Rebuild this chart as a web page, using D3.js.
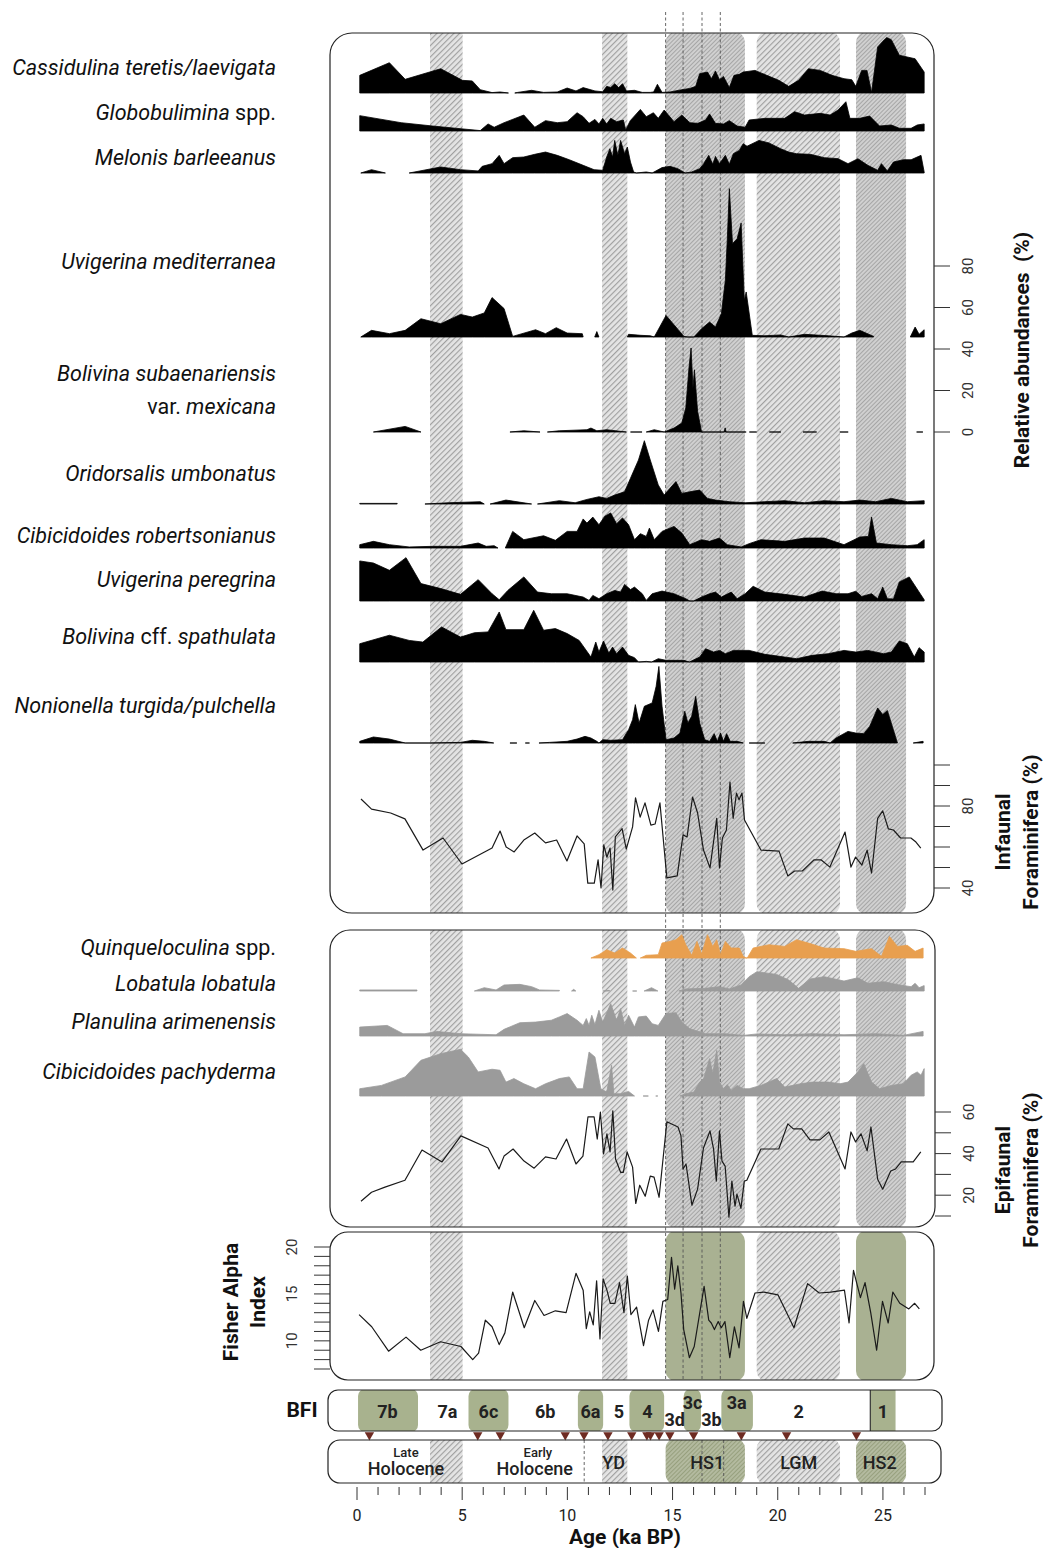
<!DOCTYPE html>
<html><head><meta charset="utf-8">
<script src="https://cdn.jsdelivr.net/npm/d3@7"></script>
<style>
body{margin:0;background:#fff;}
svg text{font-family:Roboto,"Noto Sans",sans-serif;}
</style></head><body>
<svg id="chart" width="1049" height="1548"></svg>
<script>
// ---- Relative abundances (%) of benthic foraminifera, [age ka BP, %] ----
const cassidulina = [[0.13,8.5],[1.54,14.6],[2.29,6.6],[3.98,11.7],[5.01,6.1],[5.48,5.8],[5.86,1.6],[6.42,0.2],[6.8,0.5],[7.2,0],[7.36,null],[7.5,0],[7.64,0.3],[8.3,1.3],[8.87,0.3],[9.52,0.5],[9.99,2.4],[10.41,1.0],[10.75,2.6],[11.31,1.0],[11.68,0.6],[11.87,3.2],[12.06,2.6],[12.25,4.5],[12.44,2.6],[12.62,4.5],[12.81,1.0],[13.19,1.3],[13.56,0.3],[13.94,0.3],[14.1,0.5],[14.28,4.2],[14.5,0.3],[14.88,0.5],[15.44,1.6],[15.82,2.2],[16.1,3.2],[16.29,9.3],[16.66,10.1],[16.85,6.9],[17.04,10.6],[17.23,6.4],[17.42,8.0],[17.7,2.6],[17.92,8.5],[18.17,9.0],[18.36,10.1],[18.92,10.9],[19.48,8.5],[20.05,6.1],[20.52,3.2],[20.99,6.1],[21.46,11.7],[22.02,10.9],[22.58,8.5],[23.15,6.9],[23.52,6.4],[23.71,3.2],[23.99,10.9],[24.24,10.9],[24.46,0.3],[24.75,22.2],[25.0,25.0],[25.18,26.7],[25.4,25.7],[25.78,18.2],[26.53,16.5],[26.96,10.1]];
const globobulimina = [[0.13,7.4],[2.1,4],[3.6,2.4],[4.92,1.1],[5.86,0.2],[6.23,3.4],[6.52,1.8],[6.99,4],[7.93,7.7],[8.45,1.8],[8.96,5],[9.52,4],[9.99,4.5],[10.46,8.8],[10.75,6.9],[11.03,3.7],[11.31,5.6],[11.5,3.4],[11.68,6.1],[11.87,3.4],[12.06,6.1],[12.34,4.5],[12.66,5.3],[12.77,0.5],[12.99,5],[13.47,10.4],[13.75,6.9],[14.09,8.8],[14.32,6.1],[14.6,10.1],[15.07,4.5],[15.44,7.7],[15.82,4],[16.2,3.7],[16.57,5.3],[16.76,8.2],[17.04,3.7],[17.42,3.4],[17.7,5],[18.07,2.4],[18.45,1.8],[18.64,5.3],[19.39,6.1],[20.33,6.1],[20.8,9.3],[21.27,7.7],[22.02,8.5],[22.49,7.7],[22.87,10.1],[23.24,14.1],[23.43,6.1],[23.9,6.1],[24.37,7.2],[24.84,2.4],[25.4,2.9],[25.78,1.3],[26.34,1.3],[26.63,2.9],[26.96,3.4]];
const melonis = [[0.18,0],[0.69,1.6],[1.35,0],[1.4,null],[2.48,0],[3.98,2.9],[4.92,1.6],[5.76,1],[5.95,3.2],[6.42,4.5],[6.76,8.5],[6.99,4.5],[7.4,7.4],[7.93,7.7],[8.45,9],[8.96,10.1],[9.52,8.5],[10.09,6.4],[10.75,3.7],[11.27,1.6],[11.68,1.3],[11.87,7.7],[12.02,11.7],[12.15,7.7],[12.25,15.7],[12.4,8.5],[12.53,15.7],[12.72,9.3],[12.85,12.5],[13.0,5.3],[13.15,0.5],[13.28,0],[13.75,0.5],[14.03,0],[14.5,2.6],[14.88,3.2],[15.25,2.1],[15.6,0],[15.91,0.5],[16.29,2.1],[16.48,4.5],[16.72,8.5],[16.91,4.2],[17.04,8],[17.23,4.5],[17.51,8.5],[17.7,4.2],[17.89,9.3],[18.17,10.9],[18.36,14.1],[18.54,12.9],[19.11,15.7],[19.58,14.5],[20.14,11.7],[20.52,10.1],[20.89,9.3],[21.55,9],[22.21,7.4],[22.87,6.9],[23.34,4.5],[23.81,6.9],[24.28,3.7],[24.75,1.3],[24.93,4.5],[25.21,1],[25.5,5.3],[25.97,6.4],[26.34,6.4],[26.81,8.5],[26.96,0.5]];
const uvigerinaMed = [[0.18,0],[0.69,3.2],[1.54,1.6],[2.29,3.2],[3.04,8.8],[3.98,6.4],[4.92,10.9],[5.48,9.6],[6.05,11.6],[6.42,19],[6.99,13.7],[7.4,0.3],[8.49,3.5],[8.96,1.6],[9.47,4.5],[9.99,1.9],[10.71,1.6],[10.75,0],[10.8,null],[11.3,0],[11.4,2.6],[11.5,0],[11.55,null],[12.85,0],[12.91,1.3],[13.5,0.8],[13.94,0.6],[14.13,0],[14.69,10.4],[15.54,0.3],[15.73,0],[16.01,0],[16.38,4],[16.76,7.2],[17.04,4.8],[17.32,11.2],[17.51,27.3],[17.6,46.6],[17.7,71.5],[17.85,45],[18.07,47.4],[18.26,54.9],[18.41,17.7],[18.5,21.7],[18.79,0.8],[19.39,0.6],[20.14,1],[20.52,0],[21.27,1.3],[22.4,0.6],[23.15,0],[23.52,1.9],[23.9,3.2],[24.56,0.3],[24.6,null],[26.3,0],[26.53,4.8],[26.72,1.3],[26.96,3.5]];
const bolivinaSub = [[0.78,0],[2.29,2.7],[3.04,0],[3.1,null],[7.27,0],[7.93,0.6],[8.7,0],[8.75,null],[9.05,0],[9.62,0.6],[10.93,1.1],[11.12,1.9],[11.4,0.6],[11.87,1.1],[12.8,0],[12.85,null],[13.0,0],[13.55,0],[13.6,null],[13.75,0],[14.13,1.1],[14.6,0],[15.07,1.9],[15.44,4.3],[15.63,11.6],[15.78,30.8],[15.88,40.5],[15.97,21.2],[16.04,30],[16.19,10],[16.38,0],[17.45,0],[17.5,2],[17.55,0],[18.5,0],[18.55,null],[18.65,0],[19.0,0],[19.05,null],[19.6,0],[20.15,0],[20.2,null],[21.2,0],[21.85,0],[21.9,null],[22.95,0],[23.35,0],[23.4,null],[26.6,0],[26.9,0]];
const oridorsalis = [[0.13,0.3],[1.91,0.3],[1.95,null],[3.23,0],[4.35,0.6],[5.86,1.1],[6.05,0],[6.1,null],[6.33,0],[7.08,1.9],[8.3,0],[8.35,null],[8.58,0],[9.62,1.6],[10.37,0.6],[10.93,2.2],[11.5,3.5],[11.87,2.7],[12.25,4.3],[12.72,5.9],[13.0,12.4],[13.38,21.2],[13.66,30.5],[13.94,21.2],[14.32,9.2],[14.6,4.3],[14.88,7.6],[15.16,10.8],[15.44,5.1],[15.82,5.9],[16.29,6.7],[16.66,2.7],[17.04,1.9],[17.7,1.1],[18.45,0.6],[19.39,1.1],[20.33,1.6],[21.27,0.6],[22.21,1.6],[23.15,1.1],[23.9,1.9],[24.65,1.1],[25.4,2.7],[26.16,1.1],[26.96,1.6]];
const cibRobertsonianus = [[0.13,1.6],[0.78,3.2],[1.54,1.6],[2.48,0.5],[3.6,0.8],[4.92,0.8],[5.76,2.4],[6.14,0.8],[6.52,1.1],[6.7,0],[6.75,null],[7.05,0],[7.4,8],[7.93,4],[8.87,5.9],[9.43,3.7],[9.99,8],[10.46,8],[10.75,14],[10.93,12],[11.21,14.9],[11.5,11.2],[11.78,15.3],[12.06,16.9],[12.34,11.7],[12.62,14.5],[12.91,11.2],[13.19,4],[13.47,6.9],[13.75,5.6],[13.9,9.6],[14.13,4],[14.5,8],[15.07,10.4],[15.44,7.2],[15.82,1.6],[16.38,4],[16.76,3.2],[17.23,4.8],[17.6,1.6],[18.26,0.5],[18.64,2.1],[19.2,4],[20.33,3.2],[21.27,4.8],[22.21,4.8],[23.15,1.6],[23.9,5.3],[24.31,5.6],[24.46,14.9],[24.69,2.4],[25.4,1.6],[26.16,1.1],[26.63,1.6],[26.96,4]];
const uvigerinaPer = [[0.13,19.3],[0.78,18.3],[1.54,14.8],[2.33,20.9],[3.04,8.4],[3.98,6],[4.92,3.2],[5.76,10.3],[6.42,3.5],[6.76,0.6],[7.17,5.1],[7.93,11.6],[8.58,4.3],[9.24,3.5],[9.99,3.5],[10.75,1.9],[11.03,0.3],[11.21,2.7],[11.5,1.1],[11.87,3.5],[12.25,5.1],[12.53,4.3],[12.72,8],[13.0,5.5],[13.19,6.7],[13.56,3.5],[13.75,0.3],[14.03,3.5],[14.5,4.8],[15.07,3.5],[15.63,1.1],[15.82,0],[16.0,0],[16.38,1.9],[16.76,3.5],[17.04,4.3],[17.32,1.9],[17.79,4.3],[18.07,1.1],[18.45,3.5],[18.83,7.1],[19.39,4.3],[20.33,3.2],[21.27,1.9],[22.11,4.8],[22.77,3.5],[23.34,3.5],[23.71,4.7],[23.99,2.2],[24.46,3.5],[24.75,1.1],[24.99,6.7],[25.21,1.1],[25.5,1.0],[25.78,9.2],[26.25,11.6],[26.96,0.6]];
const bolivinaSpath = [[0.13,8.8],[1.54,12.9],[2.48,10.4],[3.13,9.6],[4.02,16.9],[4.92,12],[5.58,14.1],[6.23,14.5],[6.76,24.1],[7.08,15.6],[7.93,15.6],[8.4,24.9],[8.87,15.3],[9.43,16.1],[9.99,13.7],[10.56,10.4],[11.12,2.4],[11.35,9.6],[11.5,4.8],[11.72,10.1],[11.97,4.3],[12.15,7.2],[12.34,4],[12.62,7.2],[12.91,3.2],[13.19,2.1],[13.38,0],[13.75,0.3],[14.0,0],[14.32,1.6],[14.69,0.8],[15.54,0.8],[15.8,0],[16.29,2.4],[16.57,6.4],[16.95,4.8],[17.23,5.6],[17.51,4],[17.89,5.6],[18.26,5.6],[18.64,5.6],[19.39,3.7],[20.33,2.4],[20.89,1.6],[21.64,3.2],[22.4,4],[23.15,5.6],[23.71,4.8],[24.28,5.6],[25.03,4],[25.4,4.8],[25.78,10.1],[26.16,8.8],[26.49,2.4],[26.72,6.9],[26.96,4.8]];
const nonionella = [[0.13,0.8],[0.78,2.9],[1.54,1.9],[2.29,0],[3.42,0],[4.92,0.3],[5.48,1.3],[6.05,0.8],[6.5,0],[6.55,null],[7.27,0],[7.6,0],[7.65,null],[8.0,0],[8.2,0],[8.25,null],[8.65,0],[9.15,0.3],[9.99,0.8],[10.46,1.9],[10.84,3.2],[11.12,2.4],[11.4,0.8],[11.5,0],[11.68,1.6],[12.06,1.3],[12.62,1.6],[12.91,6.4],[13.1,11.2],[13.23,18.5],[13.41,9.6],[13.66,17.7],[14.03,19.3],[14.22,27.3],[14.35,36.9],[14.5,17.7],[14.69,1.6],[15.07,2.4],[15.35,4.8],[15.58,15.3],[15.73,9.6],[15.91,12.9],[16.1,22.5],[16.29,9.6],[16.53,1.6],[16.76,0.8],[16.98,4.5],[17.13,0.8],[17.28,4.8],[17.42,0.8],[17.57,4.5],[17.74,0.8],[18.07,0.8],[18.36,0],[18.4,null],[18.64,0],[19.39,0],[19.45,null],[20.71,0],[21.46,0.8],[22.21,0.8],[22.49,0],[22.77,2.4],[23.34,5.6],[23.71,4.8],[24.09,4.5],[24.37,8],[24.75,16.9],[24.99,13.7],[25.21,15.7],[25.69,0],[25.75,null],[26.44,0],[26.91,0.8]];
const quinqueloculina = [[11.12,0],[11.5,1.6],[11.87,4],[12.25,2.4],[12.62,4.8],[13.0,2.4],[13.28,0],[13.35,null],[13.47,0],[13.75,1.3],[14.32,1.6],[14.5,7.2],[14.88,8],[15.16,8.8],[15.44,11.2],[15.63,6.4],[15.91,1.3],[16.16,8],[16.38,1.9],[16.66,11.2],[16.91,5.6],[17.1,8.8],[17.28,1.6],[17.51,8],[17.79,4.8],[18.17,4.8],[18.36,0.8],[18.49,0],[18.55,0],[18.83,4.8],[19.58,6.4],[20.33,5.6],[20.89,8.8],[21.46,7.2],[22.21,4.8],[23.15,4.5],[23.71,3.2],[24.46,4.5],[24.93,0.8],[25.31,10.4],[25.69,5.6],[26.16,6.1],[26.53,3.2],[26.91,4.8]];
const lobatula = [[0.13,0.5],[2.85,0.5],[2.9,null],[5.58,0],[6.05,1.6],[6.61,0.5],[6.99,2.9],[7.74,3.2],[8.3,2.1],[8.68,0.5],[9.62,0.3],[9.7,null],[10.2,0],[10.3,0.8],[10.4,0],[10.45,null],[11.7,0],[12.0,0.3],[12.1,null],[13.1,0],[13.3,0],[13.35,null],[13.65,0],[14.0,1.6],[14.3,0],[14.35,null],[15.3,0],[15.63,1],[16.57,1.3],[17.23,2.1],[17.7,1],[18.26,2.9],[18.64,6.9],[19.01,9.3],[19.95,8],[20.52,5.3],[20.99,1.3],[21.55,5.8],[22.21,6.9],[23.15,4.8],[23.81,6.4],[24.28,3.7],[25.03,4.5],[25.78,2.9],[26.34,2.1],[26.53,3.7],[26.72,1.6],[26.96,2.6]];
const planulina = [[0.13,4.3],[1.44,5.1],[2.19,1.1],[3.23,1.1],[3.79,2.2],[4.92,1.1],[6.61,0.6],[6.99,3.2],[7.74,6.4],[8.49,6.7],[9.24,7.6],[9.62,9.2],[9.99,10.8],[10.46,7.6],[10.75,5.1],[10.9,8.4],[11.03,5.1],[11.16,10],[11.31,5.5],[11.5,12.4],[11.68,6.7],[12.06,15.6],[12.34,7.6],[12.53,13.2],[12.72,5.1],[12.91,10],[13.19,4.3],[13.38,9.2],[13.75,9.6],[14.03,5.9],[14.32,5.1],[14.69,10.8],[15.16,11.2],[15.44,6.7],[15.82,3.5],[16.57,1.1],[17.51,1.1],[18.36,0.3],[19.01,1],[20.33,0.6],[21.64,1.1],[23.15,0.6],[24.65,1.1],[25.97,0.3],[26.91,2.2]];
const cibPachyderma = [[0.13,3.5],[1.16,5.1],[2.29,9.2],[3.04,17.2],[3.98,20.4],[4.92,22.5],[5.29,18.8],[5.76,11.6],[6.42,12.9],[6.8,12.4],[7.08,6.7],[7.46,8.4],[7.93,5.9],[8.49,3.5],[8.96,5.9],[9.62,8.4],[10.09,9.2],[10.46,3.5],[10.75,3.5],[11.03,21.2],[11.31,18.8],[11.59,3.5],[11.87,1.9],[12.1,14.8],[12.21,1.1],[12.53,1.1],[12.91,2.2],[13.19,0],[13.3,null],[13.6,0],[13.85,0],[13.9,null],[14.2,0],[14.3,0],[14.35,null],[15.35,0],[15.63,1.1],[16.01,1.9],[16.29,6.7],[16.48,8.4],[16.76,18],[16.91,10.8],[17.1,22],[17.23,6.7],[17.42,3.5],[17.6,5.5],[17.79,2.7],[18.07,5.1],[18.36,3.5],[18.64,3.5],[19.2,5.1],[19.95,8.4],[20.33,4.3],[21.08,5.9],[21.64,6.7],[22.4,6.7],[22.96,5.9],[23.34,6.7],[23.81,11.6],[24.09,15.6],[24.46,6.7],[24.84,3.5],[25.4,5.1],[25.97,5.9],[26.34,10],[26.63,11.6],[26.81,10],[26.96,13.2]];

// ---- Summed groups and diversity ----
const infaunal = [[0.19,83.4],[0.69,78.5],[1.6,76.6],[2.28,73.7],[3.14,58.5],[4.09,64.4],[4.99,51.7],[6.42,59.5],[6.8,67.8],[7.09,60],[7.47,57.6],[7.93,63.4],[8.45,66.8],[8.96,62],[9.49,63.4],[9.98,53.2],[10.46,65.4],[10.8,61.5],[10.97,42.4],[11.28,42.4],[11.46,53.7],[11.6,40],[11.73,61],[11.88,55],[12.03,59.5],[12.16,39],[12.28,64.9],[12.6,69],[12.8,59],[13.1,69.8],[13.24,84],[13.46,74.6],[13.69,81.5],[13.97,70.7],[14.17,71.2],[14.4,81.5],[14.73,44.9],[15.22,45.9],[15.5,65.9],[15.69,64.9],[15.95,84.4],[16.19,76.6],[16.47,58.5],[16.78,49.8],[17.1,74],[17.23,49.8],[17.37,64.4],[17.56,68.3],[17.73,91.7],[17.88,74],[18.04,86.3],[18.16,83],[18.3,86.3],[18.42,73.2],[19.2,58.5],[20.06,58],[20.48,45.9],[20.8,48.3],[21.17,48.3],[21.72,53.7],[22.07,53.7],[22.48,50.2],[23.2,67.3],[23.48,50.2],[23.7,55.1],[24.0,51.2],[24.25,58.5],[24.46,47.3],[24.75,74],[24.99,77.6],[25.26,68.8],[25.5,68.3],[25.84,64.4],[26.33,64.4],[26.57,62.4],[26.8,59.5]];
const epifaunal = [[0.19,17.1],[0.69,21.4],[1.33,23.9],[2.28,27.2],[3.09,41.7],[4.04,36],[4.94,48.5],[6.23,42.7],[6.75,32.6],[6.99,38.8],[7.42,42.2],[7.94,36.4],[8.42,33],[8.96,38.4],[9.46,37.4],[9.96,47],[10.41,35],[10.74,38.8],[10.98,57.7],[11.27,57.7],[11.42,47],[11.57,60],[11.72,39.8],[11.88,49.5],[12.03,40.8],[12.16,60.6],[12.29,37.4],[12.53,31],[12.66,31],[12.84,40.8],[13.1,33.5],[13.25,16],[13.44,24.8],[13.7,19.5],[13.94,29.2],[14.12,28.7],[14.36,19],[14.73,55.3],[15.26,52.8],[15.4,48.5],[15.5,32.6],[15.64,35],[15.92,15.2],[16.19,22.9],[16.47,42.7],[16.78,50.9],[16.95,42.2],[17.08,26.8],[17.23,50.9],[17.35,36.4],[17.5,34],[17.68,9.4],[17.82,26.8],[17.97,14.7],[18.06,20.5],[18.25,13.7],[18.41,26.8],[18.53,27.2],[19.2,42.2],[20.05,42.2],[20.48,54.3],[20.74,51.9],[21.14,51.9],[21.53,46.6],[22.0,46.6],[22.43,50.4],[23.2,32.6],[23.48,50.4],[23.7,45.6],[23.96,49.5],[24.25,41.3],[24.43,52.8],[24.75,27.7],[24.99,22.9],[25.37,31.6],[25.6,32.6],[25.87,36],[26.44,36],[26.8,40.8]];
const fisherAlpha = [[0.1,12.8],[0.7,11.5],[1.5,8.9],[2.33,10.4],[3.03,9.0],[3.97,9.9],[4.94,9.4],[5.5,8.0],[5.78,8.7],[6.1,12.2],[6.42,11.5],[6.76,9.6],[7.03,10.85],[7.4,15.2],[7.95,11.4],[8.45,14.3],[8.89,12.7],[9.43,13.2],[9.94,13.0],[10.41,17.2],[10.75,15.4],[10.9,11.3],[11.06,13.1],[11.23,11.7],[11.39,16.4],[11.55,10.2],[11.7,16.6],[11.88,15.4],[12.04,14.0],[12.26,14.0],[12.48,16.2],[12.69,13.0],[12.85,16.9],[13.02,12.8],[13.29,13.6],[13.62,9.5],[13.86,12.2],[14.07,13.3],[14.33,11.0],[14.54,14.2],[14.77,14.4],[14.95,18.9],[15.1,15.5],[15.25,18.0],[15.4,15.1],[15.53,11.2],[15.8,8.2],[16.03,9.4],[16.5,15.8],[16.72,12.2],[16.84,11.9],[16.99,11.2],[17.17,12.05],[17.32,11.4],[17.49,12.05],[17.72,8.2],[17.94,11.5],[18.16,9.25],[18.37,14.2],[18.53,12.4],[18.92,15.1],[19.35,15.2],[20.01,14.9],[20.77,11.4],[21.42,16.1],[21.97,15.1],[22.52,15.2],[23.17,15.4],[23.39,11.9],[23.6,17.5],[23.93,14.6],[24.15,16.2],[24.42,13.0],[24.7,9.0],[24.98,14.2],[25.25,11.9],[25.47,15.2],[25.8,14.0],[26.23,13.4],[26.51,14.0],[26.73,13.4]];

// ---- Ticks ----
const abundanceTicks = [0,20,40,60,80];
const infaunalTicks = [40,50,60,70,80,90,100];
const infaunalLabels = [40,80];
const epifaunalTicks = [10,20,30,40,50,60];
const epifaunalLabels = [20,40,60];
const fisherTicks = [7,8,9,10,11,12,13,14,15,16,17,18,19,20];
const fisherLabels = [10,15,20];
const ageTicks = d3.range(0,28);
const ageLabels = [0,5,10,15,20,25];

// ---- Climatic intervals, boundaries and zones (ka BP) ----
const intervalStart = [3.47,11.65,14.67,19.0,23.72];
const intervalEnd   = [5.02,12.85,18.44,22.96,26.1];
const stadial       = [false,false,true,false,true];
const rounded       = [false,false,true,true,true];
const eventLines = [14.67,15.5,16.4,17.27];
const holoceneBoundary = 10.8;
const bfiBoxStart = [0.05,5.3,10.5,12.95,15.53,17.32,24.4];
const bfiBoxEnd   = [2.9,7.2,11.7,14.6,16.35,18.82,25.6];
const bfiLabels = ['7b','7a','6c','6b','6a','5','4','3d','3c','3b','3a','2','1'];
const bfiLabelAges = [1.45,4.3,6.25,8.95,11.1,12.45,13.8,15.1,15.95,16.85,18.05,21.0,25.0];
const datingAges = [0.59,5.74,6.81,9.9,10.79,11.93,13.06,13.78,13.95,14.36,14.87,16.0,18.27,20.42,23.74];

const svg = d3.select('#chart');
const defs = svg.append('defs');

// scales
const x = d3.scaleLinear().domain([0,27]).range([357,925]);
const pct = d3.scaleLinear().domain([0,100]).range([0,207.5]);
const yInf = d3.scaleLinear().domain([40,100]).range([888,765]);
const yEpi = d3.scaleLinear().domain([10,60]).range([1216,1112]);
const yFis = d3.scaleLinear().domain([7,20]).range([1369,1247]);
const yAbund = d3.scaleLinear().domain([0,80]).range([432,432-pct(80)]);

// fill patterns
function hatch(id, bg, fg, gap, w){
  const p = defs.append('pattern').attr('id',id).attr('width',gap).attr('height',gap)
    .attr('patternUnits','userSpaceOnUse').attr('patternTransform','rotate(45)');
  p.append('rect').attr('width',gap).attr('height',gap).attr('fill',bg);
  p.append('line').attr('x1',0.5).attr('y1',0).attr('x2',0.5).attr('y2',gap).attr('stroke',fg).attr('stroke-width',w);
}
hatch('hatchGray','#e4e4e4','#a0a0a0',4,1.3);
hatch('hatchStadial','#d0d0d0','#a6a6a6',3,1);
hatch('hatchGreen','#b3ba9f','#97a07e',3,1);

const panels = [
  {id:'p1', x:330, y:33, w:604, h:880, r:22},
  {id:'p2', x:330, y:930, w:605, h:297, r:20},
  {id:'p3', x:330, y:1232, w:604, h:148, r:18}
];
panels.forEach(p=>{
  defs.append('clipPath').attr('id','clip-'+p.id).append('rect')
    .attr('x',p.x).attr('y',p.y).attr('width',p.w).attr('height',p.h).attr('rx',p.r);
});

const bandLayer = svg.append('g');
const lineLayer = svg.append('g');
const dataLayer = svg.append('g');
const frameLayer = svg.append('g');

// interval bands inside the three data panels
panels.forEach(p=>{
  const g = bandLayer.append('g').attr('clip-path','url(#clip-'+p.id+')');
  intervalStart.forEach((s,i)=>{
    let fill = stadial[i] ? 'url(#hatchStadial)' : 'url(#hatchGray)';
    if (p.id==='p3' && stadial[i]) fill = '#a9b192';
    g.append('rect').attr('x',x(s)).attr('y',p.y-1).attr('width',x(intervalEnd[i])-x(s))
      .attr('height',p.h+2).attr('rx',rounded[i]?10:0).attr('fill',fill);
  });
});

// event boundaries (dashed)
eventLines.forEach(a=>{
  lineLayer.append('line').attr('x1',x(a)).attr('x2',x(a)).attr('y1',12).attr('y2',1380)
    .attr('stroke','#555').attr('stroke-width',0.9).attr('stroke-dasharray','3,2.5');
});

// taxon rows
const upperRows = [
  {parts:[['Cassidulina teretis/laevigata',1]], data:cassidulina, base:93, ly:67},
  {parts:[['Globobulimina',1],[' spp.',0]], data:globobulimina, base:131, ly:112},
  {parts:[['Melonis barleeanus',1]], data:melonis, base:173, ly:157},
  {parts:[['Uvigerina mediterranea',1]], data:uvigerinaMed, base:337, ly:261},
  {parts:[['Bolivina subaenariensis',1]], parts2:[['var.',0],[' mexicana',1]], data:bolivinaSub, base:432, ly:373, ly2:406},
  {parts:[['Oridorsalis umbonatus',1]], data:oridorsalis, base:504, ly:473},
  {parts:[['Cibicidoides robertsonianus',1]], data:cibRobertsonianus, base:548, ly:535},
  {parts:[['Uvigerina peregrina',1]], data:uvigerinaPer, base:601, ly:579},
  {parts:[['Bolivina',1],[' cff. ',0],['spathulata',1]], data:bolivinaSpath, base:662, ly:636},
  {parts:[['Nonionella turgida/pulchella',1]], data:nonionella, base:743, ly:705}
];
const lowerRows = [
  {parts:[['Quinqueloculina',1],[' spp.',0]], data:quinqueloculina, base:958, ly:947, color:'#e89f4f'},
  {parts:[['Lobatula lobatula',1]], data:lobatula, base:991, ly:983, color:'#9b9b9b'},
  {parts:[['Planulina arimenensis',1]], data:planulina, base:1036, ly:1021, color:'#9b9b9b'},
  {parts:[['Cibicidoides pachyderma',1]], data:cibPachyderma, base:1096, ly:1071, color:'#9b9b9b'}
];

function label(parts, y){
  const t = svg.append('text').attr('x',276).attr('y',y).attr('text-anchor','end')
    .attr('dominant-baseline','central').attr('font-size',21.5).attr('fill','#111')
    .style('white-space','pre');
  parts.forEach(([s,it])=> t.append('tspan').text(s).attr('font-style',it?'italic':'normal'));
}
function drawRow(r, color){
  const area = d3.area().defined(d=>d[1]!==null).x(d=>x(d[0])).y0(r.base).y1(d=>r.base-pct(d[1]));
  dataLayer.append('path').datum(r.data).attr('d',area).attr('fill',color)
    .attr('stroke',color).attr('stroke-width',0.8).attr('stroke-linejoin','round');
  label(r.parts, r.ly);
  if (r.parts2) label(r.parts2, r.ly2);
}
upperRows.forEach(r=>drawRow(r,'#000'));
lowerRows.forEach(r=>drawRow(r,r.color));

// summary curves
function curve(data, yScale){
  dataLayer.append('path').datum(data)
    .attr('d', d3.line().x(d=>x(d[0])).y(d=>yScale(d[1])))
    .attr('fill','none').attr('stroke','#1a1a1a').attr('stroke-width',1.2).attr('stroke-linejoin','round');
}
curve(infaunal, yInf);
curve(epifaunal, yEpi);
curve(fisherAlpha, yFis);

// panel frames
panels.forEach(p=>{
  frameLayer.append('rect').attr('x',p.x).attr('y',p.y).attr('width',p.w).attr('height',p.h)
    .attr('rx',p.r).attr('fill','none').attr('stroke','#222').attr('stroke-width',1.2);
});

// vertical value axes
function rightAxis(scale, ticks, labels, xPos){
  const g = frameLayer.append('g');
  ticks.forEach(t=> g.append('line').attr('x1',xPos).attr('x2',xPos+16).attr('y1',scale(t)).attr('y2',scale(t))
    .attr('stroke','#333').attr('stroke-width',1));
  labels.forEach(t=> g.append('text').attr('transform',`translate(${xPos+34},${scale(t)}) rotate(-90)`)
    .attr('text-anchor','middle').attr('dominant-baseline','central').attr('font-size',15).attr('fill','#333').text(t));
}
rightAxis(yAbund, abundanceTicks, abundanceTicks, 934);
rightAxis(yInf, infaunalTicks, infaunalLabels, 934);
rightAxis(yEpi, epifaunalTicks, epifaunalLabels, 935);
// Fisher axis on the left
{
  const g = frameLayer.append('g');
  fisherTicks.forEach(t=> g.append('line').attr('x1',314).attr('x2',330).attr('y1',yFis(t)).attr('y2',yFis(t))
    .attr('stroke','#333').attr('stroke-width',1));
  fisherLabels.forEach(t=> g.append('text').attr('transform',`translate(292,${yFis(t)}) rotate(-90)`)
    .attr('text-anchor','middle').attr('dominant-baseline','central').attr('font-size',15).attr('fill','#333').text(t));
}

// axis titles
function vTitle(lines, xs, cy){
  lines.forEach((s,i)=> svg.append('text').attr('transform',`translate(${xs[i]},${cy}) rotate(-90)`)
    .attr('text-anchor','middle').attr('dominant-baseline','central').attr('font-size',21)
    .attr('font-weight','bold').attr('fill','#111').style('white-space','pre').text(s));
}
vTitle(['Relative abundances  (%)'],[1022],350);
vTitle(['Infaunal','Foraminifera (%)'],[1003,1031],832);
vTitle(['Epifaunal','Foraminifera (%)'],[1003,1031],1170);
vTitle(['Fisher Alpha','Index'],[231,258],1302);

// BFI zones
const bfi = {x:328, y:1390, w:614, h:41, r:10};
defs.append('clipPath').attr('id','clip-bfi').append('rect').attr('x',bfi.x).attr('y',bfi.y).attr('width',bfi.w).attr('height',bfi.h).attr('rx',bfi.r);
const bfiG = svg.append('g').attr('clip-path','url(#clip-bfi)');
bfiBoxStart.forEach((s,i)=>{
  const last = i===bfiBoxStart.length-1;
  bfiG.append('rect').attr('x',x(s)).attr('y',bfi.y-1).attr('width',x(bfiBoxEnd[i])-x(s)).attr('height',bfi.h+2)
    .attr('rx',last?0:7).attr('fill','#a8b28e');
  if (last) bfiG.append('line').attr('x1',x(s)).attr('x2',x(s)).attr('y1',bfi.y).attr('y2',bfi.y+bfi.h).attr('stroke','#333').attr('stroke-width',1.2);
});
svg.append('rect').attr('x',bfi.x).attr('y',bfi.y).attr('width',bfi.w).attr('height',bfi.h).attr('rx',bfi.r)
  .attr('fill','none').attr('stroke','#222').attr('stroke-width',1.2);
const bfiRow = {'3c':-9,'3a':-9,'3d':8,'3b':8};
bfiLabels.forEach((s,i)=>{
  svg.append('text').attr('x',x(bfiLabelAges[i])).attr('y',1411+(bfiRow[s]||0))
    .attr('text-anchor','middle').attr('dominant-baseline','central').attr('font-size',18)
    .attr('font-weight','bold').attr('fill','#222').text(s);
});
svg.append('text').attr('x',302).attr('y',1410).attr('text-anchor','middle').attr('dominant-baseline','central')
  .attr('font-size',21).attr('font-weight','bold').attr('fill','#111').text('BFI');

// dated levels
svg.selectAll('path.date').data(datingAges).join('path').attr('class','date')
  .attr('d', d3.symbol().type(d3.symbolTriangle).size(38))
  .attr('transform', d=>`translate(${x(d)},1435) rotate(180)`).attr('fill','#6e2b22');

// chronozones
const chron = {x:328, y:1440, w:613, h:43, r:12};
defs.append('clipPath').attr('id','clip-chron').append('rect').attr('x',chron.x).attr('y',chron.y).attr('width',chron.w).attr('height',chron.h).attr('rx',chron.r);
const chG = svg.append('g').attr('clip-path','url(#clip-chron)');
intervalStart.forEach((s,i)=>{
  chG.append('rect').attr('x',x(s)).attr('y',chron.y-1).attr('width',x(intervalEnd[i])-x(s)).attr('height',chron.h+2)
    .attr('rx',rounded[i]?9:0).attr('fill',stadial[i]?'url(#hatchGreen)':'url(#hatchGray)');
});
[holoceneBoundary, 16.4, 17.43].forEach(a=>{
  chG.append('line').attr('x1',x(a)).attr('x2',x(a)).attr('y1',chron.y).attr('y2',chron.y+chron.h)
    .attr('stroke','#555').attr('stroke-width',0.9).attr('stroke-dasharray','3,2.5');
});
svg.append('rect').attr('x',chron.x).attr('y',chron.y).attr('width',chron.w).attr('height',chron.h).attr('rx',chron.r)
  .attr('fill','none').attr('stroke','#222').attr('stroke-width',1.2);
const chronText = [
  {t:'Late', a:2.33, y:1452, s:13},{t:'Holocene', a:2.33, y:1468, s:18},
  {t:'Early', a:8.6, y:1452, s:13},{t:'Holocene', a:8.45, y:1468, s:18},
  {t:'YD', a:12.2, y:1462, s:18},{t:'HS1', a:16.65, y:1462, s:18},
  {t:'LGM', a:21.0, y:1462, s:18},{t:'HS2', a:24.85, y:1462, s:18}
];
chronText.forEach(d=> svg.append('text').attr('x',x(d.a)).attr('y',d.y).attr('text-anchor','middle')
  .attr('dominant-baseline','central').attr('font-size',d.s).attr('font-weight',500).attr('fill','#222').text(d.t));

// age axis
const ax = svg.append('g');
ageTicks.forEach(t=> ax.append('line').attr('x1',x(t)).attr('x2',x(t)).attr('y1',1487).attr('y2',t%5===0?1500:1495)
  .attr('stroke','#333').attr('stroke-width',1));
ageLabels.forEach(t=> ax.append('text').attr('x',x(t)).attr('y',1515).attr('text-anchor','middle')
  .attr('dominant-baseline','central').attr('font-size',16).attr('fill','#222').text(t));
svg.append('text').attr('x',625).attr('y',1537).attr('text-anchor','middle').attr('dominant-baseline','central')
  .attr('font-size',21).attr('font-weight','bold').attr('fill','#111').text('Age (ka BP)');
</script></body></html>
